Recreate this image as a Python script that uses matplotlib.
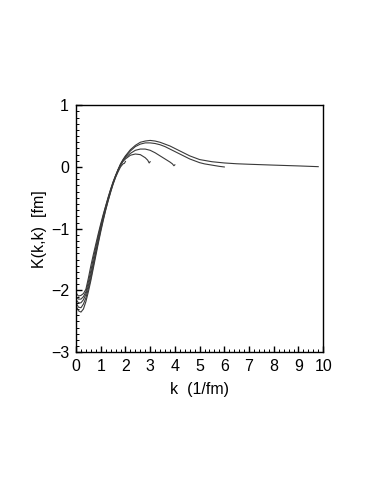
import matplotlib
matplotlib.use('Agg')
import matplotlib.pyplot as plt
from matplotlib.ticker import MultipleLocator, FuncFormatter

plt.rcParams['font.family'] = ['Liberation Sans', 'DejaVu Sans']

# curve with cutoff 10 /fm
k10 = [0, 0.1, 0.2, 0.3, 0.4, 0.5, 0.6, 0.7, 0.8, 0.9, 1.0, 1.1, 1.2, 1.3, 1.4, 1.5,
       1.6, 1.7, 1.8, 1.9, 2.0, 2.2, 2.4, 2.6, 2.8, 3.0, 3.2, 3.4, 3.6, 3.8, 4.0, 4.2,
       4.4, 4.6, 4.8, 5.0, 5.5, 6.0, 6.5, 7.0, 8.0, 9.0, 9.8]
K10 = [-2.04, -2.09, -2.08, -2.05, -1.98, -1.8, -1.6, -1.42, -1.25, -1.08, -0.92, -0.77,
       -0.63, -0.49, -0.36, -0.24, -0.14, -0.04, 0.05, 0.12, 0.18, 0.28, 0.35, 0.40, 0.42,
       0.43, 0.42, 0.40, 0.37, 0.34, 0.30, 0.26, 0.22, 0.18, 0.15, 0.12, 0.085, 0.065,
       0.052, 0.044, 0.03, 0.017, 0.005]

# cutoff 6
k6 = [0, 0.1, 0.2, 0.3, 0.4, 0.5, 0.6, 0.7, 0.8, 0.9, 1.0, 1.1, 1.2, 1.3, 1.4, 1.5,
      1.6, 1.7, 1.8, 1.9, 2.0, 2.2, 2.4, 2.6, 2.8, 3.0, 3.2, 3.4, 3.6, 3.8, 4.0, 4.2,
      4.4, 4.6, 4.8, 5.0, 5.2, 5.5, 5.8, 6.0]
K6 = [-2.1, -2.14, -2.14, -2.1, -2.02, -1.86, -1.68, -1.48, -1.3, -1.12, -0.95, -0.79,
      -0.64, -0.5, -0.37, -0.25, -0.14, -0.05, 0.04, 0.11, 0.17, 0.26, 0.33, 0.37, 0.39,
      0.39, 0.38, 0.36, 0.33, 0.29, 0.25, 0.21, 0.17, 0.13, 0.1, 0.07, 0.05, 0.03, 0.01, 0.0]

# cutoff 4
k4 = [0, 0.1, 0.2, 0.3, 0.4, 0.5, 0.6, 0.7, 0.8, 0.9, 1.0, 1.1, 1.2, 1.3, 1.4, 1.5,
      1.6, 1.7, 1.8, 1.9, 2.0, 2.2, 2.4, 2.6, 2.8, 3.0, 3.2, 3.4, 3.6, 3.8, 3.9, 3.96, 4.0]
K4 = [-2.15, -2.2, -2.2, -2.15, -2.06, -1.92, -1.74, -1.55, -1.36, -1.17, -0.99, -0.82,
      -0.66, -0.52, -0.38, -0.26, -0.15, -0.05, 0.03, 0.1, 0.15, 0.22, 0.27, 0.29, 0.29,
      0.27, 0.23, 0.18, 0.13, 0.08, 0.05, 0.02, 0.035]

# cutoff 3
k3 = [0, 0.1, 0.2, 0.3, 0.4, 0.5, 0.6, 0.7, 0.8, 0.9, 1.0, 1.1, 1.2, 1.3, 1.4, 1.5,
      1.6, 1.7, 1.8, 1.9, 2.0, 2.2, 2.4, 2.6, 2.8, 2.9, 2.96, 3.0]
K3 = [-2.2, -2.27, -2.28, -2.22, -2.12, -1.97, -1.8, -1.6, -1.4, -1.21, -1.02, -0.85,
      -0.69, -0.54, -0.4, -0.27, -0.16, -0.06, 0.03, 0.09, 0.13, 0.19, 0.21, 0.2, 0.15,
      0.11, 0.065, 0.085]

# cutoff 2
k2 = [0, 0.1, 0.2, 0.3, 0.4, 0.5, 0.6, 0.7, 0.8, 0.9, 1.0, 1.1, 1.2, 1.3, 1.4, 1.5,
      1.6, 1.7, 1.8, 1.9, 1.96, 2.0]
K2 = [-2.25, -2.33, -2.35, -2.3, -2.18, -2.02, -1.84, -1.64, -1.44, -1.24, -1.05, -0.87,
      -0.7, -0.55, -0.41, -0.28, -0.17, -0.08, 0.0, 0.05, 0.06, 0.09]

curves = [(k10, K10), (k6, K6), (k4, K4), (k3, K3), (k2, K2)]

fig = plt.figure(figsize=(3.82, 4.94), dpi=100)
ax = fig.add_axes([0.199, 0.287, 0.647, 0.500])

for k, K in curves:
    ax.plot(k, K, color='#3a3a3a', lw=0.8)

ax.set_xlim(0, 10)
ax.set_ylim(-3, 1)
ax.xaxis.set_major_locator(MultipleLocator(1))
ax.xaxis.set_minor_locator(MultipleLocator(0.2))
ax.yaxis.set_major_locator(MultipleLocator(1))
ax.yaxis.set_minor_locator(MultipleLocator(0.1))
ax.tick_params(which='both', direction='in', top=False, right=False, labelsize=11.5)
ax.tick_params(which='major', length=4, width=1, pad=5)
ax.tick_params(which='minor', length=2, width=0.7)
ax.xaxis.set_major_formatter(FuncFormatter(lambda v, p: '%d' % v))
ax.yaxis.set_major_formatter(FuncFormatter(
    lambda v, p: ('\u2212%d' % -v) if v < 0 else '%d' % v))
for s in ax.spines.values():
    s.set_linewidth(1)

ax.set_xlabel('k  (1/fm)', fontsize=11.5, labelpad=6)
ax.set_ylabel('K(k,k)  [fm]', fontsize=11.5, labelpad=3)

fig.savefig('out.png', dpi=100)
